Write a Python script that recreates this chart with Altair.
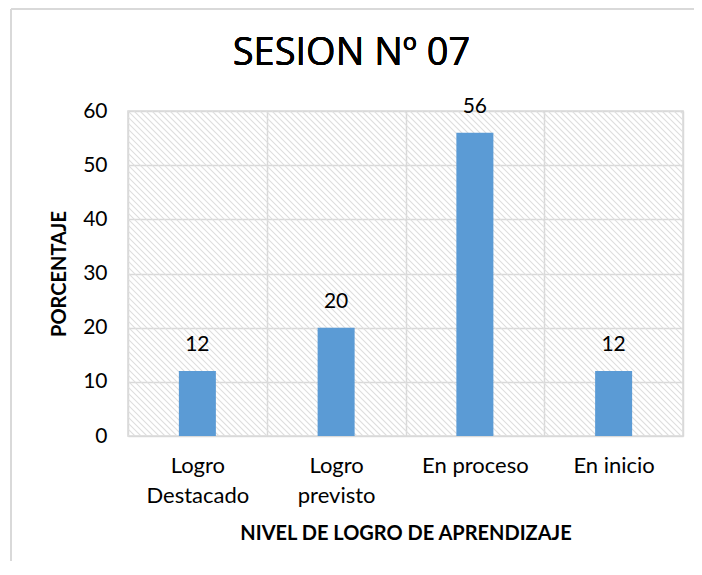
import altair as alt
import pandas as pd

categories = ["Logro Destacado", "Logro previsto", "En proceso", "En inicio"]
values = [12, 20, 56, 12]
y_ticks = [0, 10, 20, 30, 40, 50, 60]
chart_title = "SESION Nº 07"

df = pd.DataFrame({"nivel": categories, "pct": values})

W, H = 555, 325
FONT = "Lato"
GRID = "#d9d9d9"

hatch = (
    alt.Chart(alt.sequence(start=-330, stop=570, step=6, as_="k"))
    .transform_calculate(k2=f"datum.k + {H}")
    .mark_rule(clip=True, color="#dedede", strokeWidth=1.1)
    .encode(
        x=alt.X("k:Q", scale=None, axis=None),
        x2="k2:Q",
        y=alt.value(0),
        y2=alt.value(H),
    )
)

base = alt.Chart(df).encode(
    x=alt.X(
        "nivel:N",
        sort=categories,
        scale=alt.Scale(paddingInner=0, paddingOuter=0),
        axis=alt.Axis(
            title="NIVEL DE LOGRO DE APRENDIZAJE",
            titleFont=FONT, titleFontSize=20, titleFontWeight="bold",
            titleColor="#000", titlePadding=17,
            labelFont=FONT, labelFontSize=22, labelColor="#000",
            labelAngle=0, labelPadding=19, labelLineHeight=30,
            labelExpr="indexof(datum.label, 'Logro') == 0 ? split(datum.label, ' ') : datum.label",
            ticks=False, domain=False,
            grid=True, gridColor=GRID, gridWidth=1.5, tickBand="extent",
        ),
    ),
    y=alt.Y(
        "pct:Q",
        scale=alt.Scale(domain=[0, 60], nice=False),
        axis=alt.Axis(
            title="PORCENTAJE", values=y_ticks,
            titleFont=FONT, titleFontSize=20, titleFontWeight="bold",
            titleColor="#000", titlePadding=13,
            labelFont=FONT, labelFontSize=21, labelColor="#000",
            labelPadding=21, ticks=False, domain=False,
            gridColor=GRID, gridWidth=1.5,
        ),
    ),
)

bars = base.mark_bar(color="#5B9BD5", size=37)
labels = base.mark_text(
    font=FONT, fontSize=21, fontWeight="normal", color="#000", dy=-20,
    baseline="alphabetic"
).encode(text="pct:Q")
main = alt.layer(bars, labels)

title_mark = alt.Chart(df).mark_text(
    font="Open Sans", fontSize=38, fontWeight=400, color="#000",
    baseline="alphabetic", align="center"
).encode(x=alt.value(W / 2 - 54), y=alt.value(-46), text=alt.value(chart_title))

border = alt.Chart(df).mark_rule(color="#d9d9d9", strokeWidth=2).encode(
    x=alt.value(-117), y=alt.value(-102), y2=alt.value(H + 140)
)
border_top = alt.Chart(df).mark_rule(color="#d9d9d9", strokeWidth=2).encode(
    x=alt.value(-117), x2=alt.value(W + 20), y=alt.value(-102)
)

chart = (
    alt.layer(hatch, main, title_mark, border, border_top)
    .resolve_scale(x="independent")
    .properties(
        width=W,
        height=H,
        autosize=alt.AutoSizeParams(type="none"),
        padding={"left": 120, "top": 103, "right": 11, "bottom": 125},
    )
    .configure_view(stroke=GRID, strokeWidth=1.5)
)

chart.save("out.html", embed_options={"renderer": "svg", "actions": False})
